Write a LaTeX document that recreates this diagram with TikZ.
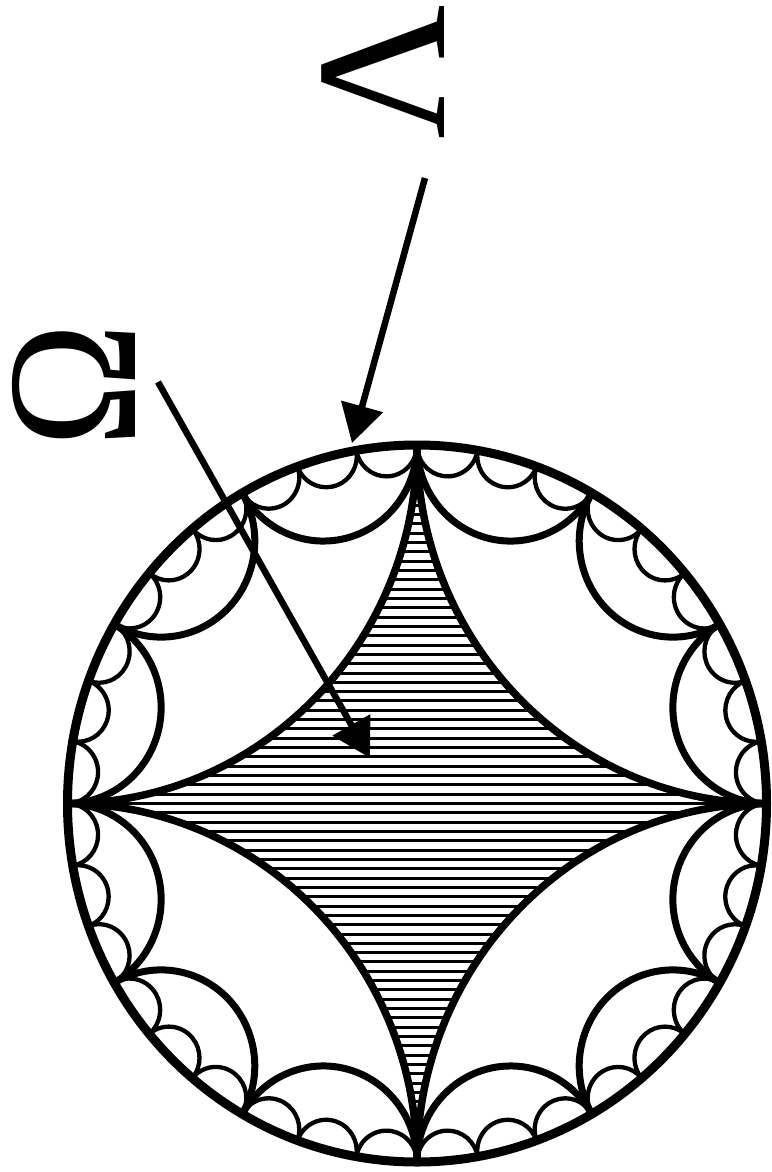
\documentclass[tikz,border=0pt]{standalone}
\usepackage{fontspec}
\newfontfamily\grk{Liberation Serif}
\usetikzlibrary{arrows.meta}
\tikzset{
  rim/.style={line width=9pt},
  geozero/.style={line width=7.5pt},
  geoone/.style={line width=7pt},
  geotwo/.style={line width=4.3pt},
  hatchline/.style={line width=3pt},
  pointer/.style={line width=6.5pt, -{Triangle[length=38pt,width=42pt]}},
  biglabel/.style={font=\grk\fontsize{186}{186}\selectfont, rotate=90, inner sep=0pt},
}
\begin{document}
\begin{tikzpicture}[x=1pt,y=1pt]
\useasboundingbox (0,0) rectangle (771,-1172);
\begin{scope}[shift={(417pt,-803.5pt)}, x=349.5pt, y=358.5pt]
  % hatching of the central ideal quadrilateral
  \begin{scope}
    \clip (0:1) arc[start angle=270, end angle=180, radius=1]
                arc[start angle=360, end angle=270, radius=1]
                arc[start angle=450, end angle=360, radius=1]
                arc[start angle=540, end angle=450, radius=1] -- cycle;
    \foreach \k in {-38,...,38}
      \draw[hatchline] (-1,\k*0.026) -- (1,\k*0.026);
  \end{scope}
  % level 2 geodesics
  \foreach \a in {0,10,...,350}
    \draw[geotwo] (\a:1) arc[start angle=\a+270, end angle=\a+100, radius={tan(5)}];
  % level 1 geodesics
  \foreach \a in {0,30,...,330}
    \draw[geoone] (\a:1) arc[start angle=\a+270, end angle=\a+120, radius={tan(15)}];
  % level 0 geodesics
  \foreach \a in {0,90,180,270}
    \draw[geozero] (\a:1) arc[start angle=\a+270, end angle=\a+180, radius=1];
  % boundary circle
  \draw[rim] (0,0) circle[radius=1];
\end{scope}
% labels and pointers
\node[biglabel] (lam) at (383,-72) {Λ};
\node[biglabel] (om) at (74,-385) {\scalebox{0.9}[1]{Ω}};
\coordinate (lamtail) at (425,-178);
\coordinate (lamtip) at (352,-443);
\coordinate (omtail) at (158,-382);
\coordinate (omtip) at (370,-758);
\draw[pointer] (lamtail) -- (lamtip);
\draw[pointer] (omtail) -- (omtip);
\end{tikzpicture}
\end{document}
